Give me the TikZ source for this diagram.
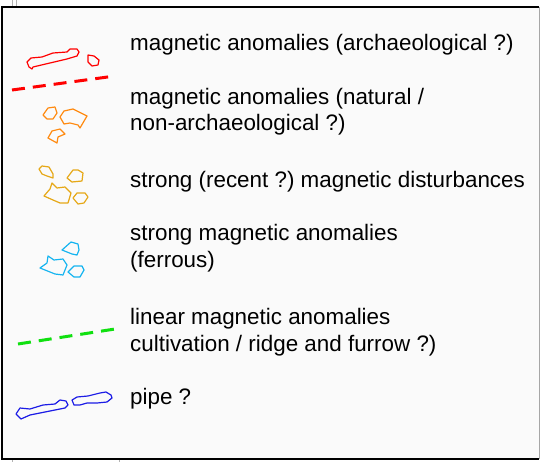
\documentclass[tikz,border=0pt]{standalone}
\usepackage{fontspec}
\setmainfont{Liberation Sans}
\usetikzlibrary{positioning}
\definecolor{framebg}{HTML}{FAFAFA}
\definecolor{anomred}{HTML}{FF0000}
\definecolor{anomorange}{HTML}{FF8A10}
\definecolor{anomgold}{HTML}{E6A817}
\definecolor{anomcyan}{HTML}{14B4F0}
\definecolor{anomgreen}{HTML}{10E010}
\definecolor{anomblue}{HTML}{1C1CE6}
\tikzset{
  legendtext/.style={anchor=base west,inner sep=0pt,align=left,
    font=\fontsize{22.4}{26.5}\selectfont\frenchspacing},
  outline/.style={line width=1.2pt,line join=round},
  dashline/.style={line width=3pt,dash pattern=on 13pt off 8pt}
}

\begin{document}
\begin{tikzpicture}[x=1pt,y=-1pt]
  \useasboundingbox (0,0) rectangle (540,462);
  % frame
  \fill[framebg] (2,7) rectangle (539,459);
  \draw[line width=2pt] (539,7) -- (2,7) -- (2,459) -- (539,459);
  \draw[gray!70,line width=1pt] (539,7) -- (539,459);
  \draw[gray!60,line width=0.8pt] (12,0) -- (12,6) (16,0) -- (16,6)
    (12,460) -- (12,462) (119,460) -- (119,462);

  % archaeological
  \draw[anomred,outline] (27,62) -- (31,58) -- (42,57) -- (53,53) -- (67,52) -- (70,49)
    -- (77,49) -- (79,52) -- (77,56) -- (67,59) -- (50,63) -- (33,67) -- (32,69) -- (29,67) -- cycle;
  \draw[anomred,outline] (88,55) -- (94,56) -- (99,60) -- (98,65) -- (92,66) -- (88,62) -- cycle;
  \draw[anomred,dashline] (12,90) -- (115,76);

  % natural
  \draw[anomorange,outline] (43,115) -- (48,108) -- (55,107) -- (57,113) -- (53,119) -- (47,119) -- cycle;
  \draw[anomorange,outline] (60,117) -- (64,111) -- (73,109) -- (87,116) -- (80,128) -- (78,125)
    -- (70,123) -- (64,124) -- cycle;
  \draw[anomorange,outline] (48,138) -- (52,131) -- (60,129) -- (65,134) -- (58,137) -- (57,143) -- cycle;

  % disturbances
  \draw[anomgold,outline] (39,169) -- (42,166) -- (49,167) -- (53,174) -- (53,178) -- (47,176) -- (42,174) -- cycle;
  \draw[anomgold,outline] (67,178) -- (73,170) -- (78,170) -- (83,173) -- (82,181) -- (72,182) -- cycle;
  \draw[anomgold,outline] (44,196) -- (50,189) -- (52,183) -- (57,188) -- (65,187) -- (71,193)
    -- (68,203) -- (60,203) -- (53,200) -- cycle;
  \draw[anomgold,outline] (73,198) -- (77,193) -- (85,193) -- (88,197) -- (84,203) -- (78,204) -- cycle;

  % ferrous
  \draw[anomcyan,outline] (62,250) -- (71,242) -- (78,244) -- (79,250) -- (77,255) -- (72,254) -- cycle;
  \draw[anomcyan,outline] (40,268) -- (47,263) -- (48,256) -- (54,260) -- (63,259) -- (67,265)
    -- (63,275) -- (55,274) -- cycle;
  \draw[anomcyan,outline] (68,272) -- (74,266) -- (82,266) -- (84,270) -- (80,277) -- (74,277) -- cycle;

  % linear
  \draw[anomgreen,dashline] (18,344) -- (115,329);

  % pipe
  \draw[anomblue,outline] (16,414) -- (20,408) -- (30,409) -- (43,405) -- (55,404) -- (60,400)
    -- (66,401) -- (68,405) -- (65,408) -- (50,411) -- (30,415) -- (21,419) -- cycle;
  \draw[anomblue,outline] (72,400) -- (77,397) -- (88,396) -- (100,393) -- (106,392) -- (111,395)
    -- (112,398) -- (107,402) -- (97,403) -- (87,403) -- (80,405) -- (74,405) -- cycle;

  % labels (base = last line)
  \foreach \n/\y/\lab in {archaeo/51/{magnetic anomalies (archaeological ?)},
      natural/131/{magnetic anomalies (natural /\\non-archaeological ?)},
      recent/188/{strong (recent ?) magnetic disturbances},
      ferrous/267/{strong magnetic anomalies\\(ferrous)},
      linear/351/{linear magnetic anomalies\\cultivation / ridge and furrow ?)},
      pipe/404/{pipe ?}}
    \node[legendtext] (\n) at (130,\y) {\lab};
\end{tikzpicture}
\end{document}
